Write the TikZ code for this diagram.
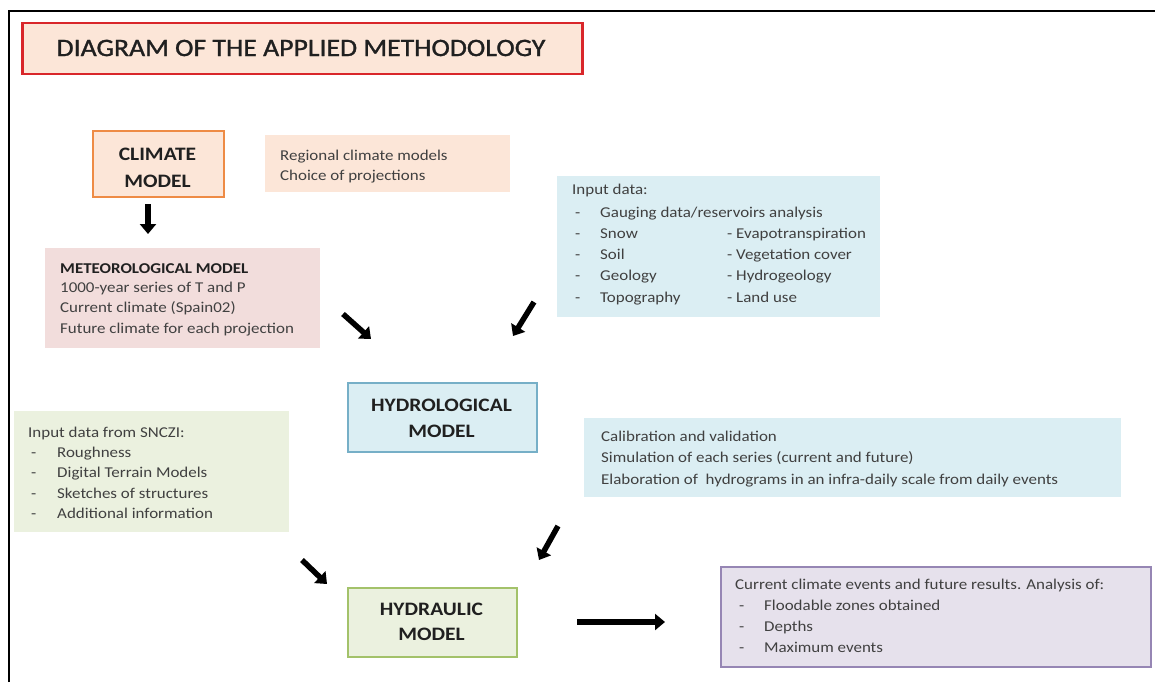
\documentclass[tikz,border=0pt]{standalone}
\usepackage{fontspec}
\setmainfont{Carlito}[FakeStretch=1.13]
\newfontfamily\titlefont{Carlito}[FakeStretch=1.11,FakeBold=1.2]
\usetikzlibrary{arrows.meta}
\definecolor{titlered}{HTML}{D9262A}
\definecolor{peach}{HTML}{FCE6D8}
\definecolor{orangeb}{HTML}{EE8B45}
\definecolor{lblue}{HTML}{DBEEF3}
\definecolor{blueb}{HTML}{76AFC7}
\definecolor{pink}{HTML}{F2DDDC}
\definecolor{lgreen}{HTML}{EBF1DF}
\definecolor{greenb}{HTML}{A3C26A}
\definecolor{lpurple}{HTML}{E6E1EC}
\definecolor{purpleb}{HTML}{9686B4}
\definecolor{bodytext}{HTML}{404040}
\definecolor{headtext}{HTML}{202020}
\begin{document}
\begin{tikzpicture}[x=1pt,y=-1pt,
  box/.style={rectangle,inner sep=0pt,anchor=north west},
  txt/.style={anchor=base west,inner sep=0pt,text=bodytext,font=\fontsize{15}{17}\selectfont},
  head/.style={anchor=base,inner sep=0pt,text=headtext,font=\fontsize{19}{21}\selectfont\bfseries},
  bigarrow/.style={line width=5.5pt,-{Triangle[length=10pt,width=16pt]}}]
\useasboundingbox (0,0) rectangle (1155,682);
\fill[white] (0,0) rectangle (1155,682);
% frame
\coordinate (fbl) at (9,682);
\coordinate (ftl) at (9,11);
\coordinate (ftr) at (1155,11);
\draw[line width=2.5pt] (fbl) -- (ftl) -- (ftr);
% title
\node[box,draw=titlered,line width=2.5pt,fill=peach,minimum width=560pt,minimum height=51pt] (title) at (21,22) {};
\node[inner sep=0pt,text=headtext,font=\fontsize{25}{25}\titlefont] (titletxt) at (301,48) {DIAGRAM OF THE APPLIED METHODOLOGY};
% climate model
\node[box,draw=orangeb,line width=2pt,fill=peach,minimum width=131pt,minimum height=66pt] (climate) at (92,130) {};
\node[head] (climate1) at (157.5,160) {CLIMATE};
\node[head] (climate2) at (157.5,187) {MODEL};
% regional
\node[box,fill=peach,minimum width=245pt,minimum height=57pt] (regional) at (265,135) {};
\foreach \t [count=\i] in {Regional climate models,Choice of projections}
  \node[txt] (reg\i) at (280,{160+20*(\i-1)}) {\t};
% input data
\node[box,fill=lblue,minimum width=323pt,minimum height=141pt] (input) at (557,176) {};
\node[txt] (in0) at (572,194) {Input data:};
\node[txt] (ind1) at (575,217) {-};
\node[txt] (ina1) at (600,217) {Gauging data/reservoirs analysis};
\foreach \a/\b [count=\i from 2] in {Snow/- Evapotranspiration,Soil/- Vegetation cover,Geology/- Hydrogeology,Topography/- Land use}{
  \node[txt] (ind\i) at (575,{217+21.3*(\i-1)}) {-};
  \node[txt] (ina\i) at (600,{217+21.3*(\i-1)}) {\a};
  \node[txt] (inb\i) at (727,{217+21.3*(\i-1)}) {\b};
}
% meteorological
\node[box,fill=pink,minimum width=275pt,minimum height=100pt] (meteo) at (45,248) {};
\node[txt,text=headtext,font=\fontsize{15}{17}\selectfont\bfseries] (met0) at (60,273) {METEOROLOGICAL MODEL};
\foreach \t [count=\i] in {1000-year series of T and P,Current climate (Spain02),Future climate for each projection}
  \node[txt] (met\i) at (60,{292+20.7*(\i-1)}) {\t};
% hydrological
\node[box,draw=blueb,line width=1.5pt,fill=lblue,minimum width=189pt,minimum height=69pt] (hydrol) at (347,382) {};
\node[head] (hydrol1) at (441.5,411) {HYDROLOGICAL};
\node[head] (hydrol2) at (441.5,437) {MODEL};
% SNCZI
\node[box,fill=lgreen,minimum width=275pt,minimum height=121pt] (sncz) at (14,411) {};
\node[txt] (sn0) at (28,437) {Input data from SNCZI:};
\foreach \t [count=\i] in {Roughness,Digital Terrain Models,Sketches of structures,Additional information}{
  \node[txt] (snd\i) at (31,{457+20.6*(\i-1)}) {-};
  \node[txt] (sn\i) at (57,{457+20.6*(\i-1)}) {\t};
}
% calibration
\node[box,fill=lblue,minimum width=537pt,minimum height=79pt] (calib) at (584,418) {};
\foreach \t [count=\i] in {Calibration and validation,Simulation of each series (current and future),Elaboration of \ hydrograms in an infra-daily scale from daily events}
  \node[txt] (cal\i) at (601,{441+21.5*(\i-1)}) {\t};
% hydraulic
\node[box,draw=greenb,line width=1.5pt,fill=lgreen,minimum width=169pt,minimum height=69pt] (hydrau) at (347,587) {};
\node[head] (hydrau1) at (431.5,615) {HYDRAULIC};
\node[head] (hydrau2) at (431.5,640) {MODEL};
% results
\node[box,draw=purpleb,line width=1.5pt,fill=lpurple,minimum width=430pt,minimum height=100pt] (results) at (720,566) {};
\node[txt] (res0) at (735,589) {Current climate events and future results. Analysis of:};
\foreach \t [count=\i] in {Floodable zones obtained,Depths,Maximum events}{
  \node[txt] (resd\i) at (739,{610+21.3*(\i-1)}) {-};
  \node[txt] (res\i) at (764,{610+21.3*(\i-1)}) {\t};
}
% arrows
\coordinate (a1s) at (148,204); \coordinate (a1e) at (148,234);
\draw[bigarrow] (a1s) -- (a1e);
\coordinate (a2s) at (343,314); \coordinate (a2e) at (371,339);
\draw[bigarrow] (a2s) -- (a2e);
\coordinate (a3s) at (534,302); \coordinate (a3e) at (513,336);
\draw[bigarrow] (a3s) -- (a3e);
\coordinate (a4s) at (302,560); \coordinate (a4e) at (327,584);
\draw[bigarrow] (a4s) -- (a4e);
\coordinate (a5s) at (558,526); \coordinate (a5e) at (539,560);
\draw[bigarrow] (a5s) -- (a5e);
\coordinate (a6s) at (577,622); \coordinate (a6e) at (665,622);
\draw[bigarrow] (a6s) -- (a6e);
\end{tikzpicture}
\end{document}
